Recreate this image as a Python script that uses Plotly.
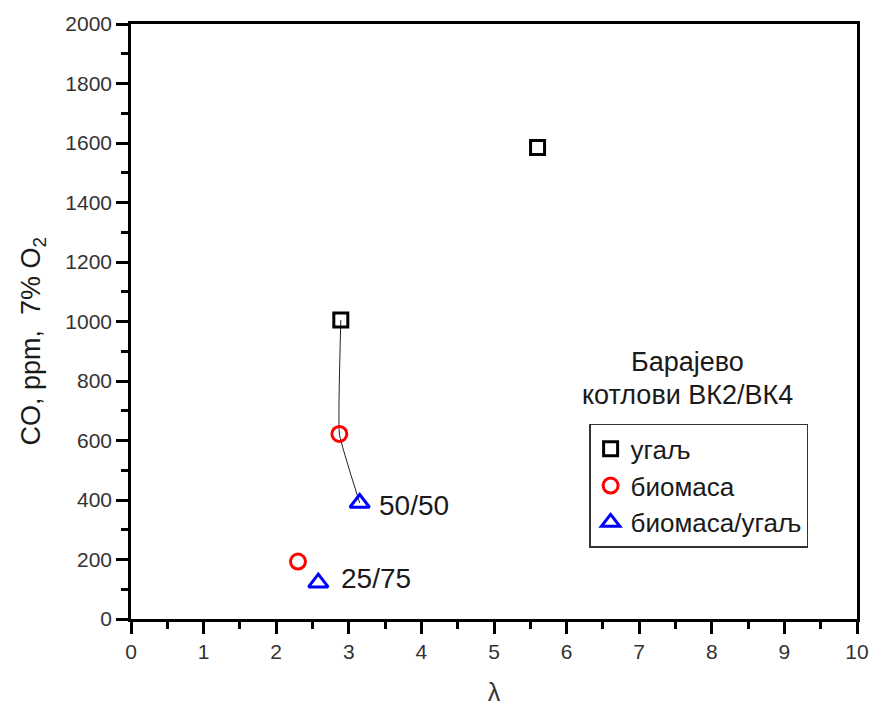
import plotly.graph_objects as go

# CO emissions vs excess air ratio, Барајево boilers ВК2/ВК4
coal_lambda = [2.89, 5.60]
coal_co = [1005, 1585]

bio_lambda = [2.87, 2.30]
bio_co = [622, 193]

mix_lambda = [3.15, 2.58]
mix_co = [390, 122]
mix_labels = ["50/50", "25/75"]

# points joined by the thin guide line (coal -> biomass -> 50/50 mix)
trend_lambda = [coal_lambda[0], bio_lambda[0], mix_lambda[0]]
trend_co = [coal_co[0], bio_co[0], mix_co[0]]

x_ticks = list(range(0, 11))
y_ticks = list(range(0, 2001, 200))

FONT = "Liberation Sans, Arial, sans-serif"
TXT = "#1a1a1a"

fig = go.Figure()

fig.add_trace(go.Scatter(
    x=trend_lambda, y=trend_co, mode="lines",
    line=dict(color="#222222", width=1, shape="spline", smoothing=0.3),
    showlegend=False, hoverinfo="skip",
))

fig.add_trace(go.Scatter(
    x=coal_lambda, y=coal_co, mode="markers", name="угаљ",
    marker=dict(symbol="square-open", size=14, color="black",
                line=dict(width=3, color="black")),
))
fig.add_trace(go.Scatter(
    x=bio_lambda, y=bio_co, mode="markers", name="биомаса",
    marker=dict(symbol="circle-open", size=15, color="#ff0000",
                line=dict(width=3, color="#ff0000")),
))
fig.add_trace(go.Scatter(
    x=mix_lambda, y=mix_co, mode="markers", name="биомаса/угаљ",
    marker=dict(symbol="triangle-up-open", size=17, color="#0000ff",
                line=dict(width=3, color="#0000ff")),
))

# mixture ratio labels beside the triangles
label_dx = [17, 21]
label_dy = [-3, 4]
annotations = []
for lx, ly, lab, dx, dy in zip(mix_lambda, mix_co, mix_labels, label_dx, label_dy):
    annotations.append(dict(
        x=lx, y=ly, xref="x", yref="y", text=lab, showarrow=False,
        xanchor="left", yanchor="middle", xshift=dx, yshift=dy,
        font=dict(family=FONT, size=28, color=TXT),
    ))

annotations.append(dict(
    x=0.766, y=0.432, xref="paper", yref="paper", text="Барајево",
    showarrow=False, xanchor="center", yanchor="middle",
    font=dict(family=FONT, size=27, color=TXT),
))
annotations.append(dict(
    x=0.766, y=0.377, xref="paper", yref="paper", text="котлови ВК2/ВК4",
    showarrow=False, xanchor="center", yanchor="middle",
    font=dict(family=FONT, size=27, color=TXT),
))

# y-axis title, rotated
annotations.append(dict(
    x=-0.135, y=0.468, xref="paper", yref="paper",
    text="CO, ppm,  7% O<sub>2</sub>", textangle=-90, showarrow=False,
    xanchor="center", yanchor="middle",
    font=dict(family=FONT, size=27, color=TXT),
))

axis_common = dict(
    showline=True, linecolor="black", linewidth=2.5, mirror=True,
    ticks="outside", ticklen=12, tickwidth=2.5, tickcolor="black",
    showgrid=False, zeroline=False, automargin=False,
    tickfont=dict(family=FONT, size=21, color="#333333"),
)

fig.update_xaxes(
    range=[0, 10], tickvals=x_ticks, ticktext=[str(v) for v in x_ticks],
    minor=dict(ticks="outside", ticklen=7, tickwidth=2.5, tickcolor="black",
               dtick=0.5, tick0=0),
    title=dict(text="λ", font=dict(family=FONT, size=25, color="#333333"),
               standoff=24),
    **axis_common,
)
fig.update_yaxes(
    range=[0, 2000], tickvals=y_ticks, ticktext=[str(v) for v in y_ticks],
    minor=dict(ticks="outside", ticklen=7, tickwidth=2.5, tickcolor="black",
               dtick=100, tick0=0),
    **axis_common,
)

fig.update_layout(
    width=872, height=706,
    margin=dict(l=131, r=15, t=24, b=87, autoexpand=False),
    paper_bgcolor="white", plot_bgcolor="white",
    showlegend=True,
    legend=dict(
        x=0.631, y=0.328, xanchor="left", yanchor="top",
        bgcolor="white", bordercolor="#333333", borderwidth=1.5,
        font=dict(family=FONT, size=26, color=TXT),
        itemsizing="trace",
    ),
    annotations=annotations,
)

fig.write_html("out.html")
